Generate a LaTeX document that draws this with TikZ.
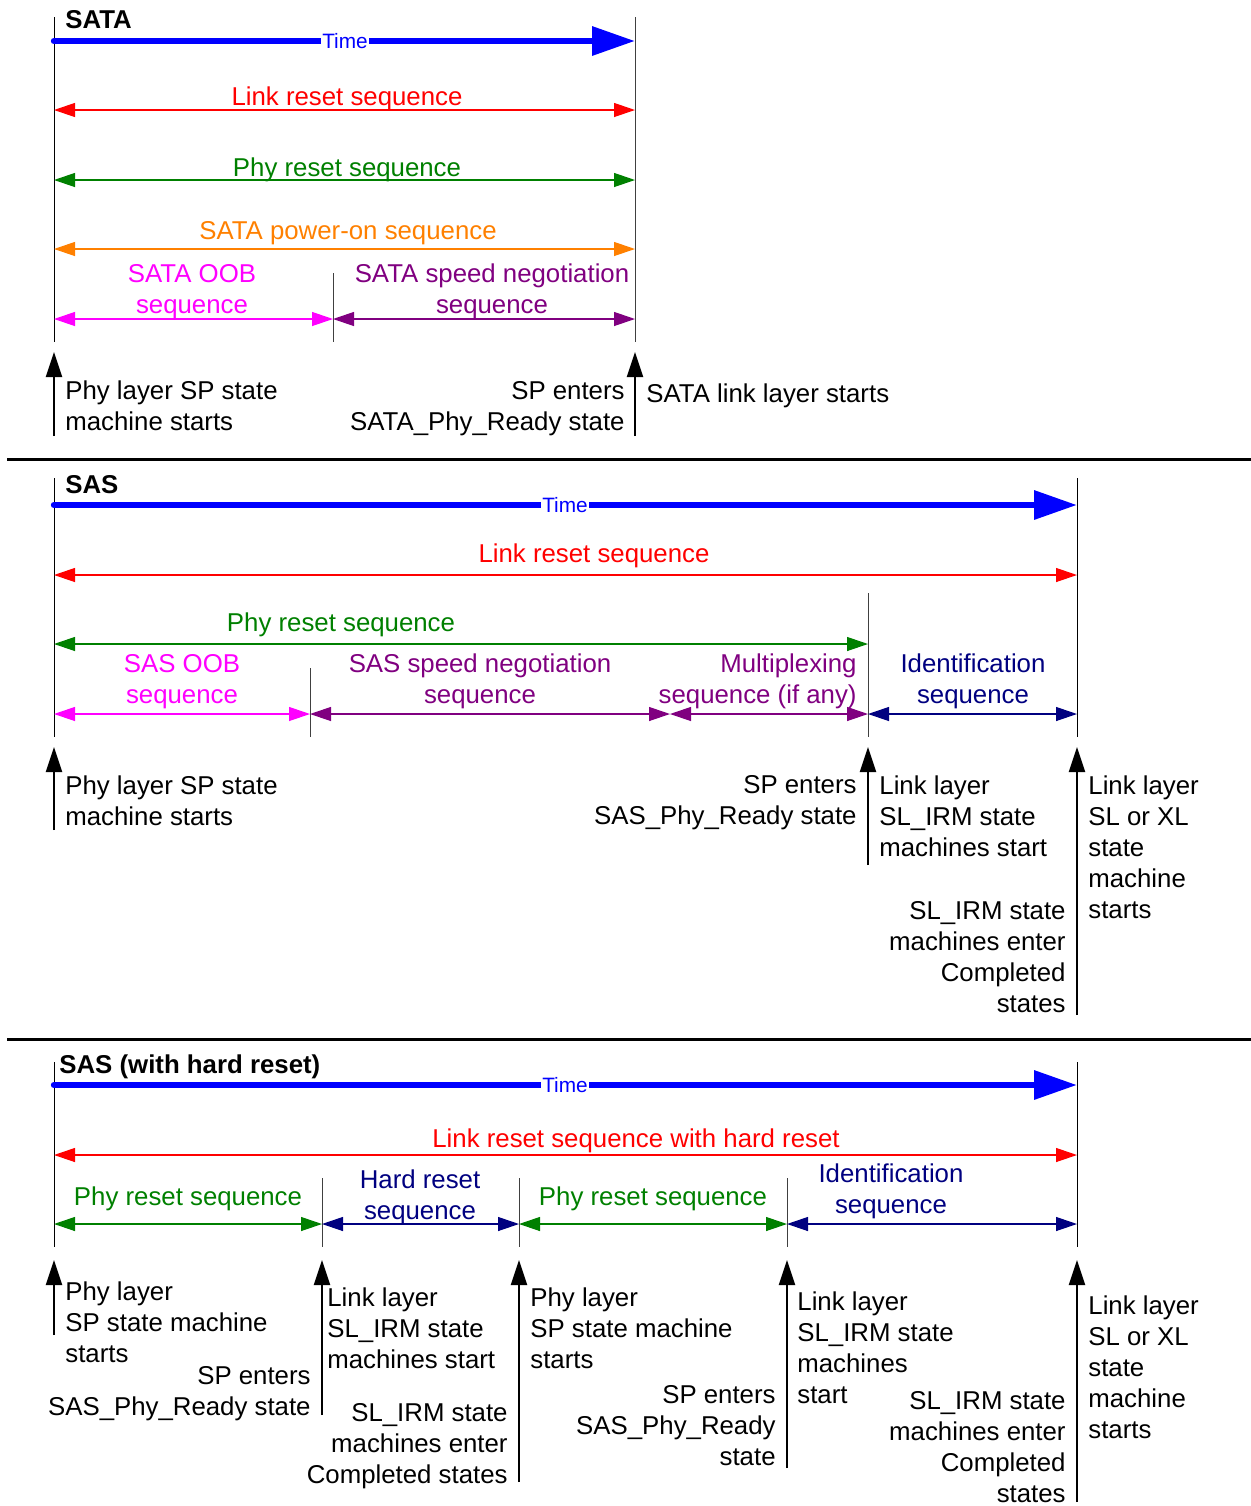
\documentclass[tikz,border=0pt]{standalone}
\usepackage{fontspec}
\setmainfont{Liberation Sans}
\usetikzlibrary{arrows.meta}
\newcommand{\fs}{\fontsize{12.9}{15.5}\selectfont}
\newcommand{\ftime}{\fontsize{10.4}{12}\selectfont}
\definecolor{cRed}{RGB}{255,0,0}
\definecolor{cGreen}{RGB}{0,128,0}
\definecolor{cOrange}{RGB}{255,128,0}
\definecolor{cMag}{RGB}{255,0,255}
\definecolor{cPurp}{RGB}{128,0,128}
\definecolor{cNavy}{RGB}{0,0,128}
\definecolor{cBlue}{RGB}{0,0,255}
\tikzset{
  seqarr/.style={line width=0.6pt, {Triangle[length=10.5pt,width=7pt]}-{Triangle[length=10.5pt,width=7pt]}},
  uparr/.style={line width=1pt, black, -{Triangle[length=12.5pt,width=8pt]}},
  timearr/.style={cBlue, line width=3.2pt, line cap=round, -{Triangle[length=21.5pt,width=14pt]}},
  tickl/.style={line width=0.5pt, black!75},
  sepl/.style={line width=1.5pt, black},
  txt/.style={font=\fs, inner sep=0pt, yshift=-1pt, execute at begin node=\strut, execute at end node=\strut},
  ttl/.style={txt, font=\fs\bfseries, anchor=west},
  timelbl/.style={font=\ftime, text=cBlue, fill=white, inner xsep=0.5pt, inner ysep=0.8pt},
  lt/.style={txt, anchor=west, align=left},
  rt/.style={txt, anchor=east, align=right},
  rtb/.style={font=\fs, inner sep=0pt, anchor=south east, align=right, text depth=0pt},
  ct/.style={txt, align=center}
}
\begin{document}
\begin{tikzpicture}[x=0.5pt,y=-0.5pt]
\useasboundingbox (0,0) rectangle (1251,1506);

% ================= SATA =================
\coordinate (aT0) at (54,17);   \coordinate (aB0) at (54,342);
\coordinate (aT1) at (635,17);  \coordinate (aB1) at (635,342);
\coordinate (aT2) at (333,273); \coordinate (aB2) at (333,342);
\draw[line width=0.5pt, black] (aT0) -- (aB0);
\draw[tickl] (aT1) -- (aB1);
\draw[tickl] (aT2) -- (aB2);
\node[ttl] (aTitle) at (65,20) {SATA};
\coordinate (aTs) at (54,41); \coordinate (aTe) at (635,41);
\draw[timearr] (aTs) -- (aTe);
\node[timelbl] (aTime) at (345,41) {Time};

\coordinate (aL1) at (54,110); \coordinate (aR1) at (635,110);
\draw[seqarr, cRed] (aL1) -- (aR1);
\node[ct, text=cRed] (aLink) at (347,97) {Link reset sequence};
\coordinate (aL2) at (54,180); \coordinate (aR2) at (635,180);
\draw[seqarr, cGreen] (aL2) -- (aR2);
\node[ct, text=cGreen] (aPhy) at (347,168) {Phy reset sequence};
\coordinate (aL3) at (54,249); \coordinate (aR3) at (635,249);
\draw[seqarr, cOrange] (aL3) -- (aR3);
\node[ct, text=cOrange] (aPow) at (348,231) {SATA power-on sequence};
\coordinate (aL4) at (54,319); \coordinate (aM4) at (333,319); \coordinate (aR4) at (635,319);
\draw[seqarr, cMag] (aL4) -- (aM4);
\draw[seqarr, cPurp] (aM4) -- (aR4);
\node[ct, text=cMag] (aOOB) at (192,291.5) {SATA OOB\\sequence};
\node[ct, text=cPurp] (aSpd) at (492,291.5) {SATA speed negotiation\\sequence};

\coordinate (aU0s) at (54,436); \coordinate (aU0e) at (54,352);
\coordinate (aU1s) at (635,436); \coordinate (aU1e) at (635,352);
\draw[uparr] (aU0s) -- (aU0e);
\draw[uparr] (aU1s) -- (aU1e);
\node[lt] (aTx1) at (65,408.5) {Phy layer SP state\\machine starts};
\node[rt] (aTx2) at (625,408.5) {SP enters\\SATA\_Phy\_Ready state};
\node[lt] (aTx3) at (646,394) {SATA link layer starts};

\coordinate (sep1a) at (7,459); \coordinate (sep1b) at (1251,459);
\draw[sepl] (sep1a) -- (sep1b);

% ================= SAS =================
\coordinate (bT0) at (54,478);   \coordinate (bB0) at (54,737);
\coordinate (bT1) at (1077,478); \coordinate (bB1) at (1077,737);
\coordinate (bT2) at (868,593);  \coordinate (bB2) at (868,737);
\coordinate (bT3) at (310,668);  \coordinate (bB3) at (310,737);
\draw[line width=0.5pt, black] (bT0) -- (bB0);
\draw[line width=0.5pt, black] (bT1) -- (bB1);
\draw[tickl] (bT2) -- (bB2);
\draw[tickl] (bT3) -- (bB3);
\node[ttl] (bTitle) at (65,485) {SAS};
\coordinate (bTs) at (54,505); \coordinate (bTe) at (1077,505);
\draw[timearr] (bTs) -- (bTe);
\node[timelbl] (bTime) at (565,505) {Time};

\coordinate (bL1) at (54,575); \coordinate (bR1) at (1077,575);
\draw[seqarr, cRed] (bL1) -- (bR1);
\node[ct, text=cRed] (bLink) at (594,554) {Link reset sequence};
\coordinate (bL2) at (54,644); \coordinate (bR2) at (868,644);
\draw[seqarr, cGreen] (bL2) -- (bR2);
\node[ct, text=cGreen] (bPhy) at (341,623) {Phy reset sequence};
\coordinate (bL3) at (54,714); \coordinate (bM3a) at (310,714);
\coordinate (bM3b) at (670,714); \coordinate (bM3c) at (868,714);
\coordinate (bR3) at (1077,714);
\draw[seqarr, cMag] (bL3) -- (bM3a);
\draw[seqarr, cPurp] (bM3a) -- (bM3b);
\draw[seqarr, cPurp] (bM3b) -- (bM3c);
\draw[seqarr, cNavy] (bM3c) -- (bR3);
\node[ct, text=cMag] (bOOB) at (182,681.5) {SAS OOB\\sequence};
\node[ct, text=cPurp] (bSpd) at (480,681.5) {SAS speed negotiation\\sequence};
\node[rt, text=cPurp] (bMux) at (857,681.5) {Multiplexing\\sequence (if any)};
\node[ct, text=cNavy] (bId) at (973,681.5) {Identification\\sequence};

\coordinate (bU0s) at (54,830);   \coordinate (bU0e) at (54,747);
\coordinate (bU1s) at (868,865);  \coordinate (bU1e) at (868,747);
\coordinate (bU2s) at (1077,1015); \coordinate (bU2e) at (1077,747);
\draw[uparr] (bU0s) -- (bU0e);
\draw[uparr] (bU1s) -- (bU1e);
\draw[uparr] (bU2s) -- (bU2e);
\node[lt] (bTx1) at (65,803) {Phy layer SP state\\machine starts};
\node[rt] (bTx2) at (857,803) {SP enters\\SAS\_Phy\_Ready state};
\node[lt] (bTx3) at (879,818.5) {Link layer\\SL\_IRM state\\machines start};
\node[lt] (bTx4) at (1088,849.5) {Link layer\\SL or XL\\state\\machine\\starts};
\node[rt] (bTx5) at (1066,959.5) {SL\_IRM state\\machines enter\\Completed\\states};

\coordinate (sep2a) at (7,1039); \coordinate (sep2b) at (1251,1039);
\draw[sepl] (sep2a) -- (sep2b);

% ================= SAS with hard reset =================
\coordinate (cT0) at (54,1062);   \coordinate (cB0) at (54,1247);
\coordinate (cT1) at (1077,1062); \coordinate (cB1) at (1077,1247);
\coordinate (cT2) at (322,1178);  \coordinate (cB2) at (322,1247);
\coordinate (cT3) at (519,1178);  \coordinate (cB3) at (519,1247);
\coordinate (cT4) at (787,1178);  \coordinate (cB4) at (787,1247);
\draw[line width=0.5pt, black] (cT0) -- (cB0);
\draw[line width=0.5pt, black] (cT1) -- (cB1);
\draw[tickl] (cT2) -- (cB2);
\draw[tickl] (cT3) -- (cB3);
\draw[tickl] (cT4) -- (cB4);
\node[ttl] (cTitle) at (59,1065) {SAS (with hard reset)};
\coordinate (cTs) at (54,1085); \coordinate (cTe) at (1077,1085);
\draw[timearr] (cTs) -- (cTe);
\node[timelbl] (cTime) at (565,1085) {Time};

\coordinate (cL1) at (54,1155); \coordinate (cR1) at (1077,1155);
\draw[seqarr, cRed] (cL1) -- (cR1);
\node[ct, text=cRed] (cLink) at (636,1139) {Link reset sequence with hard reset};
\coordinate (cL2) at (54,1224);  \coordinate (cM2a) at (322,1224);
\coordinate (cM2b) at (519,1224); \coordinate (cM2c) at (787,1224);
\coordinate (cR2) at (1077,1224);
\draw[seqarr, cGreen] (cL2) -- (cM2a);
\draw[seqarr, cNavy] (cM2a) -- (cM2b);
\draw[seqarr, cGreen] (cM2b) -- (cM2c);
\draw[seqarr, cNavy] (cM2c) -- (cR2);
\node[ct, text=cGreen] (cPhy1) at (188,1197) {Phy reset sequence};
\node[ct, text=cNavy] (cHard) at (420,1197.5) {Hard reset\\sequence};
\node[ct, text=cGreen] (cPhy2) at (653,1197) {Phy reset sequence};
\node[ct, text=cNavy] (cId) at (891,1191.5) {Identification\\sequence};

\coordinate (cU0s) at (54,1335);   \coordinate (cU0e) at (54,1260);
\coordinate (cU1s) at (322,1415);  \coordinate (cU1e) at (322,1260);
\coordinate (cU2s) at (519,1482);  \coordinate (cU2e) at (519,1260);
\coordinate (cU3s) at (787,1468);  \coordinate (cU3e) at (787,1260);
\coordinate (cU4s) at (1077,1502); \coordinate (cU4e) at (1077,1260);
\draw[uparr] (cU0s) -- (cU0e);
\draw[uparr] (cU1s) -- (cU1e);
\draw[uparr] (cU2s) -- (cU2e);
\draw[uparr] (cU3s) -- (cU3e);
\draw[uparr] (cU4s) -- (cU4e);
\node[lt] (cTx1) at (65,1325) {Phy layer\\SP state machine\\starts};
\node[rt] (cTx2) at (311,1393.5) {SP enters\\SAS\_Phy\_Ready state};
\node[lt] (cTx3) at (327,1331) {Link layer\\SL\_IRM state\\machines start};
\node[rt] (cTx4) at (508,1446) {SL\_IRM state\\machines enter\\Completed states};
\node[lt] (cTx5) at (530,1331) {Phy layer\\SP state machine\\starts};
\node[rt] (cTx6) at (776,1428) {SP enters\\SAS\_Phy\_Ready\\state};
\node[lt] (cTx7) at (797,1350.5) {Link layer\\SL\_IRM state\\machines\\start};
\node[rtb] (cTx8) at (1066,1503) {SL\_IRM state\\machines enter\\Completed\\states};
\node[lt] (cTx9) at (1088,1369.5) {Link layer\\SL or XL\\state\\machine\\starts};
\end{tikzpicture}
\end{document}
